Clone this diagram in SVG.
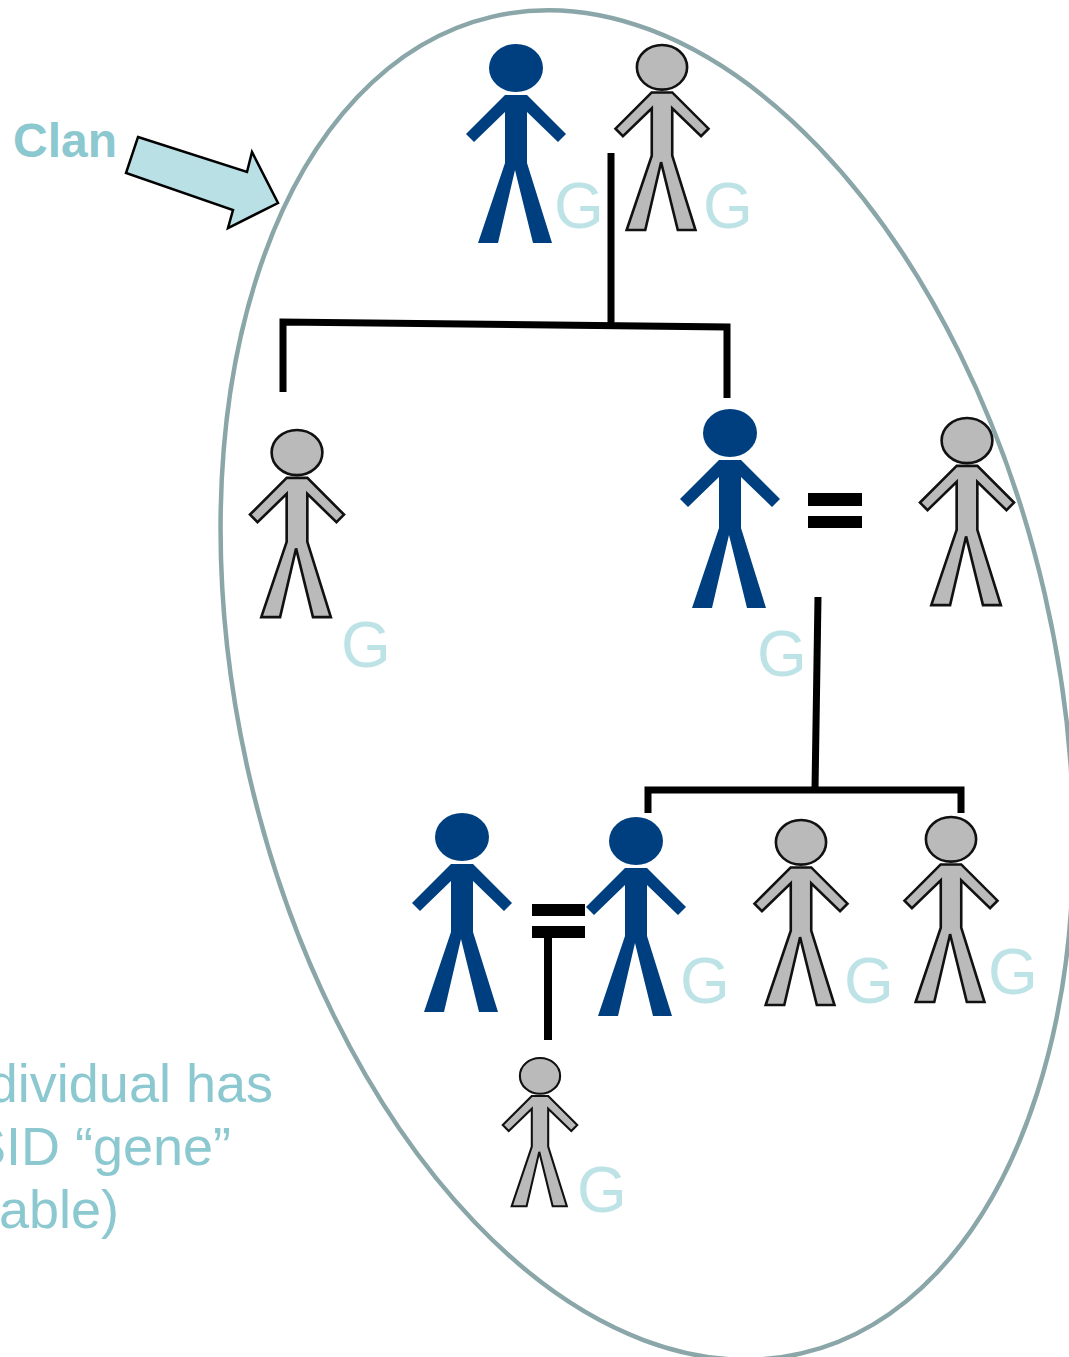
<svg xmlns="http://www.w3.org/2000/svg" xmlns:xlink="http://www.w3.org/1999/xlink" width="1069" height="1357" viewBox="0 0 1069 1357">
<style>
.blue{fill:#003F7F;}
.gray{fill:#BABABA;stroke:#111;stroke-width:2.8;stroke-linejoin:miter;}
.gray *{vector-effect:non-scaling-stroke;}
.g{font-family:"Liberation Sans",Arial,sans-serif;font-size:64px;fill:#BEE3E7;}
.txt{font-family:"Liberation Sans",Arial,sans-serif;fill:#8CC8D0;}
.line{stroke:#000;stroke-width:7;fill:none;stroke-linejoin:miter;}
</style>
<defs>
<g id="fig">
<ellipse cx="0" cy="24" rx="27" ry="24"/>
<path d="M-11,51 L-50,90 L-42,98 L-11,68 L-11,119 L-38,199 L-18,199 L-1,126 L17,199 L36,199 L11,119 L11,68 L42,98 L50,90 L11,51 Z"/>
</g>
</defs>
<rect width="1069" height="1357" fill="#fff"/>
<ellipse id="clan-boundary" cx="647" cy="685" rx="408" ry="686" transform="rotate(-13 647 685)" fill="none" stroke="#8AA6A8" stroke-width="4.5"/>
<g id="clan-label">
<text class="txt" x="13" y="157" font-size="48" font-weight="bold">Clan</text>
<polygon points="138,137 247,172 252,152 278,203 228,228 233,210 126,173" fill="#B9E0E4" stroke="#000" stroke-width="2.5" stroke-linejoin="miter"/>
</g>
<g id="side-text" class="txt" font-size="54" text-anchor="end">
<text x="273" y="1102">dividual has</text>
<text x="231" y="1165">SID “gene”</text>
<text x="119" y="1228">vable)</text>
</g>
<g id="connectors">
<path class="line" d="M611,153 V325"/>
<path class="line" d="M283,392 V322 L727,327 V398"/>
<path class="line" d="M818,597 L815,790"/>
<path class="line" d="M648,813 V790 H961 V813"/>
<rect x="808" y="493" width="54" height="13" fill="#000"/>
<rect x="808" y="516" width="54" height="12" fill="#000"/>
<rect x="532" y="904" width="53" height="12" fill="#000"/>
<rect x="532" y="926" width="53" height="12" fill="#000"/>
<path d="M548,938 V1040" stroke="#000" stroke-width="8"/>
</g>
<g id="p1" class="blue"><use xlink:href="#fig" transform="translate(516,44)"/><text class="g" x="554" y="228">G</text></g>
<g id="p2"><use class="gray" xlink:href="#fig" transform="translate(662,45) scale(0.93)"/><text class="g" x="703" y="228">G</text></g>
<g id="p3"><use class="gray" xlink:href="#fig" transform="translate(297,430) scale(0.94)"/><text class="g" x="341" y="667">G</text></g>
<g id="p4" class="blue"><use xlink:href="#fig" transform="translate(730,409)"/><text class="g" x="757" y="676">G</text></g>
<g id="p5"><use class="gray" xlink:href="#fig" transform="translate(967,418) scale(0.94)"/></g>
<g id="p6" class="blue"><use xlink:href="#fig" transform="translate(462,813)"/></g>
<g id="p7" class="blue"><use xlink:href="#fig" transform="translate(636,817)"/><text class="g" x="680" y="1003">G</text></g>
<g id="p8"><use class="gray" xlink:href="#fig" transform="translate(801,820) scale(0.93)"/><text class="g" x="844" y="1003">G</text></g>
<g id="p9"><use class="gray" xlink:href="#fig" transform="translate(951,817) scale(0.93)"/><text class="g" x="988" y="994">G</text></g>
<g id="p10"><use class="gray" xlink:href="#fig" transform="translate(540,1058) scale(0.745)"/><text class="g" x="577" y="1212">G</text></g>
</svg>
